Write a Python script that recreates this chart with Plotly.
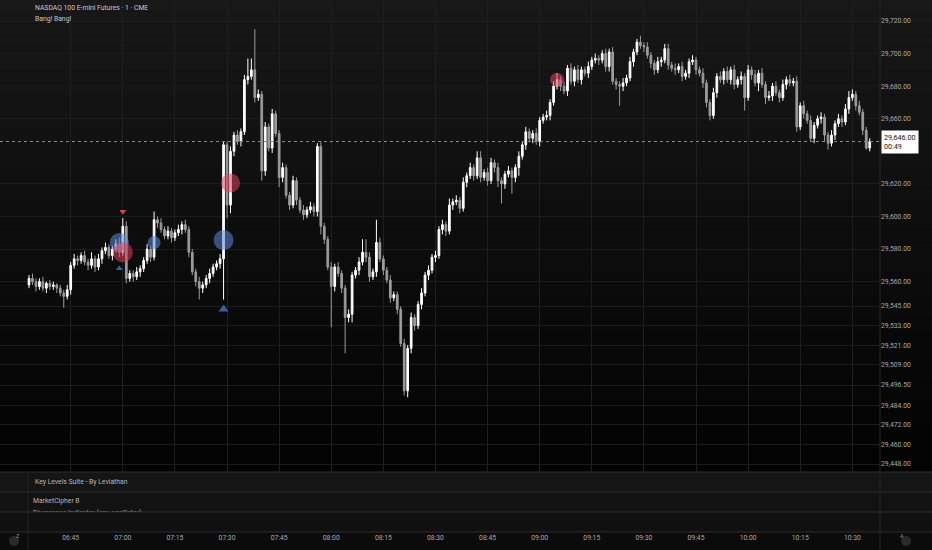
import plotly.graph_objects as go
import pandas as pd

# ---------------- data ----------------
first_open = 29558
closes = [
    29562, 29560, 29557, 29560, 29556, 29559, 29557, 29558, 29556, 29553,
    29551, 29555, 29570, 29574, 29573, 29576, 29572, 29570, 29574, 29569,
    29574, 29579, 29581, 29576, 29580, 29583, 29578, 29594, 29562, 29565,
    29563, 29566, 29568, 29573, 29580, 29575, 29598, 29596, 29592, 29588,
    29591, 29587, 29590, 29592, 29595, 29592, 29578, 29566, 29560, 29556,
    29558, 29562, 29565, 29569, 29571, 29574, 29644, 29607, 29640, 29650,
    29646, 29652, 29684, 29686, 29690, 29673, 29675, 29628, 29655, 29642,
    29663, 29651, 29624, 29630, 29613, 29607, 29622, 29610, 29604, 29601,
    29604, 29606, 29603, 29643, 29594, 29586, 29569, 29557, 29569, 29565,
    29556, 29538, 29540, 29564, 29567, 29572, 29578, 29575, 29563, 29566,
    29584, 29574, 29567, 29561, 29550, 29552, 29543, 29522, 29493, 29519,
    29538, 29533, 29546, 29553, 29564, 29567, 29575, 29576, 29592, 29595,
    29591, 29607, 29609, 29610, 29605, 29621, 29625, 29630, 29625, 29636,
    29624, 29627, 29622, 29633, 29630, 29622, 29620, 29626, 29628, 29624,
    29630, 29637, 29644, 29652, 29648, 29651, 29646, 29659, 29661, 29662,
    29670, 29680, 29684, 29680, 29677, 29691, 29683, 29690, 29684, 29690,
    29688, 29692, 29696, 29697, 29696, 29700, 29692, 29701, 29683, 29681,
    29680, 29682, 29685, 29695, 29701, 29707, 29705, 29704, 29699, 29694,
    29690, 29695, 29696, 29703, 29693, 29691, 29690, 29692, 29686, 29688,
    29695, 29696, 29690, 29688, 29682, 29670, 29662, 29676, 29686, 29684,
    29689, 29684, 29690, 29681, 29684, 29686, 29673, 29690, 29687, 29682,
    29688, 29681, 29673, 29674, 29680, 29676, 29673, 29681, 29684, 29682,
    29683, 29655, 29668, 29663, 29659, 29648, 29656, 29660, 29661, 29650,
    29645, 29650, 29657, 29660, 29658, 29666, 29673, 29675, 29668, 29664,
    29653, 29642, 29646,
]
upper_wick = [
    2, 3, 2, 2, 3, 1, 2, 2, 1, 2,
    2, 3, 2, 3, 2, 2, 3, 2, 4, 2,
    3, 2, 3, 2, 2, 3, 4, 5, 3, 2,
    2, 3, 2, 2, 3, 2, 5, 2, 3, 2,
    3, 2, 2, 3, 2, 3, 2, 2, 2, 3,
    2, 2, 3, 2, 2, 3, 2, 2, 3, 2,
    3, 2, 3, 11, 7, 25, 3, 2, 3, 2,
    3, 2, 2, 3, 2, 2, 3, 2, 2, 3,
    2, 3, 2, 2, 3, 2, 2, 3, 2, 3,
    2, 2, 3, 2, 2, 3, 8, 8, 3, 2,
    14, 3, 2, 2, 3, 2, 2, 2, 3, 2,
    3, 2, 2, 3, 2, 3, 2, 3, 2, 3,
    2, 4, 2, 3, 2, 3, 2, 3, 2, 4,
    4, 2, 3, 3, 2, 3, 2, 2, 3, 2,
    2, 3, 2, 3, 2, 2, 3, 2, 2, 3,
    2, 3, 4, 2, 3, 2, 3, 2, 3, 2,
    2, 3, 2, 3, 2, 2, 3, 2, 3, 2,
    2, 3, 2, 3, 2, 2, 4, 2, 3, 2,
    2, 3, 2, 3, 3, 2, 3, 2, 3, 2,
    2, 3, 2, 2, 3, 2, 2, 3, 2, 3,
    2, 3, 2, 3, 2, 3, 2, 3, 2, 3,
    2, 3, 2, 3, 2, 3, 2, 3, 2, 3,
    2, 3, 2, 3, 2, 3, 2, 2, 3, 2,
    2, 3, 2, 3, 2, 3, 4, 3, 2, 3,
    2, 2, 2,
]
lower_wick = [
    2, 2, 3, 2, 2, 3, 2, 2, 3, 2,
    7, 2, 3, 2, 3, 2, 2, 3, 2, 3,
    2, 3, 2, 2, 3, 2, 3, 2, 3, 2,
    3, 2, 3, 2, 2, 3, 2, 3, 2, 2,
    2, 3, 2, 2, 3, 2, 3, 2, 3, 7,
    3, 2, 3, 2, 2, 3, 25, 8, 5, 3,
    2, 3, 2, 3, 2, 3, 2, 6, 3, 2,
    3, 2, 6, 3, 2, 3, 2, 3, 2, 3,
    2, 2, 3, 3, 5, 3, 2, 25, 3, 2,
    3, 22, 3, 5, 2, 3, 2, 3, 3, 2,
    3, 2, 3, 2, 3, 2, 3, 2, 3, 4,
    3, 3, 2, 3, 2, 3, 2, 3, 2, 3,
    3, 2, 3, 2, 3, 2, 3, 2, 3, 2,
    3, 2, 3, 2, 3, 4, 12, 3, 2, 10,
    3, 5, 2, 3, 2, 3, 2, 3, 2, 2,
    3, 2, 2, 3, 2, 3, 2, 3, 2, 3,
    2, 3, 2, 2, 3, 2, 3, 3, 2, 3,
    12, 3, 2, 2, 3, 2, 2, 3, 2, 3,
    3, 2, 3, 2, 3, 2, 3, 2, 3, 2,
    3, 2, 3, 2, 3, 3, 3, 2, 3, 2,
    3, 2, 3, 3, 2, 3, 8, 2, 3, 2,
    5, 2, 4, 2, 3, 2, 3, 2, 3, 2,
    2, 3, 2, 3, 2, 2, 3, 2, 3, 4,
    4, 2, 3, 2, 3, 2, 3, 2, 3, 2,
    3, 1, 2,
]

# signal markers: bar index and price
blue_circle_idx = [26, 36, 56]
blue_circle_y = [29584, 29584, 29585.5]
blue_circle_size = [19, 13, 20]
red_circle_idx = [27, 58, 152]
red_circle_y = [29578, 29620.5, 29684]
red_circle_size = [20, 19, 14]
blue_tri_idx = [26, 56]
blue_tri_y = [29568, 29543]
blue_tri_size = [6, 9]
red_tri_idx = [27]
red_tri_y = [29603]

y_ticks = [29720, 29700, 29680, 29660, 29620, 29600, 29580, 29560, 29545,
           29533, 29521, 29509, 29496.5, 29484, 29472, 29460, 29448]
x_tick_labels = ["06:45", "07:00", "07:15", "07:30", "07:45", "08:00", "08:15", "08:30",
                 "08:45", "09:00", "09:15", "09:30", "09:45", "10:00", "10:15", "10:30"]
last_price = 29646
last_price_label = "29,646.00<br>00:49"

title_line1 = "NASDAQ 100 E-mini Futures · 1 · CME"
title_line2 = "Bang! Bang!"
panel_labels = ["Key Levels Suite - By Leviathan", "MarketCipher B",
                "Divergence Indicator (any oscillator)"]

# ---------------- build ----------------
DAY = "2025-07-15 "
n = len(closes)
times = pd.date_range(DAY + "06:33", periods=n, freq="1min")
opens = [first_open] + closes[:-1]
highs = [max(o, c) + u for o, c, u in zip(opens, closes, upper_wick)]
lows = [min(o, c) - l for o, c, l in zip(opens, closes, lower_wick)]
x_tick_vals = [pd.Timestamp(DAY + t) for t in x_tick_labels]

W, H = 932, 550
ML, MR, MT, MB = 0, 52, 0, 18
PW = W - ML - MR          # 880
PH = H - MT - MB          # 532
MAIN_BOTTOM_PX = 472


def px_x(px):
    return (px - ML) / PW


def px_y(py):
    return (H - MB - py) / PH


FONT = "Roboto"
TXT = "#a8a8a8"

fig = go.Figure()
fig.add_trace(go.Candlestick(
    x=times, open=opens, high=highs, low=lows, close=closes,
    increasing=dict(line=dict(color="#ffffff", width=1), fillcolor="#ffffff"),
    decreasing=dict(line=dict(color="#9c9c9c", width=1), fillcolor="#9c9c9c"),
    whiskerwidth=0, hoverinfo="skip", showlegend=False,
))

fig.add_trace(go.Scatter(
    x=[times[i] for i in blue_circle_idx], y=blue_circle_y, mode="markers",
    marker=dict(size=blue_circle_size, color="rgba(92,140,215,0.78)", line=dict(width=0)),
    hoverinfo="skip", showlegend=False))
fig.add_trace(go.Scatter(
    x=[times[i] for i in red_circle_idx], y=red_circle_y, mode="markers",
    marker=dict(size=red_circle_size, color="rgba(222,66,92,0.78)", line=dict(width=0)),
    hoverinfo="skip", showlegend=False))
fig.add_trace(go.Scatter(
    x=[times[i] for i in blue_tri_idx], y=blue_tri_y, mode="markers",
    marker=dict(size=blue_tri_size, symbol="triangle-up", color="#4f86d8", line=dict(width=0)),
    hoverinfo="skip", showlegend=False))
fig.add_trace(go.Scatter(
    x=[times[i] for i in red_tri_idx], y=red_tri_y, mode="markers",
    marker=dict(size=6, symbol="triangle-down", color="#e0414f", line=dict(width=0)),
    hoverinfo="skip", showlegend=False))

# clipped panel text (second pane)
fig.add_trace(go.Scatter(
    x=[33, 33], y=[11, -1.5], mode="text", text=panel_labels[1:],
    textposition="middle right", textfont=dict(family=FONT, size=6.8, color="#b8b8b8"),
    cliponaxis=True, xaxis="x2", yaxis="y2", hoverinfo="skip", showlegend=False))

# axis ranges from pixel geometry
t0 = pd.Timestamp(DAY + "06:45")
min_per_px = 1 / 3.474
x_left = t0 + pd.Timedelta(minutes=(0 - 70.7) * min_per_px)
x_right = t0 + pd.Timedelta(minutes=(880 - 70.7) * min_per_px)
px_per_pt = 1.629
y_top = 29720 + 21 / px_per_pt
y_bot = 29720 - (MAIN_BOTTOM_PX - 21) / px_per_pt

shapes = []
nb = 40
for k in range(nb):
    f = k / (nb - 1)
    c = int(24 - 21 * f)
    shapes.append(dict(type="rect", xref="paper", yref="paper", layer="below",
                       x0=px_x(0), x1=px_x(W), y0=px_y(MAIN_BOTTOM_PX * (k + 1) / nb),
                       y1=px_y(MAIN_BOTTOM_PX * k / nb),
                       fillcolor=f"rgb({c},{c},{c})", line=dict(width=0)))
for top, bot, col in [(472, 492, "#151515"), (492, 512, "#121212"), (512, 532, "#101010"), (532, 550, "#0b0b0b")]:
    shapes.append(dict(type="rect", xref="paper", yref="paper", layer="below",
                       x0=px_x(0), x1=px_x(W), y0=px_y(bot), y1=px_y(top),
                       fillcolor=col, line=dict(width=0)))
for py in [472, 492, 512, 532]:
    shapes.append(dict(type="line", xref="paper", yref="paper", layer="above",
                       x0=px_x(0), x1=px_x(W), y0=px_y(py), y1=px_y(py),
                       line=dict(color="#2c2c2c", width=1)))
shapes.append(dict(type="line", xref="paper", yref="paper", layer="above",
                   x0=px_x(880), x1=px_x(880), y0=px_y(H), y1=px_y(0),
                   line=dict(color="#262626", width=1)))
shapes.append(dict(type="line", xref="paper", yref="paper", layer="above",
                   x0=px_x(28), x1=px_x(28), y0=px_y(H), y1=px_y(472),
                   line=dict(color="#222222", width=1)))
shapes.append(dict(type="line", xref="paper", yref="y", layer="above",
                   x0=0, x1=1, y0=last_price, y1=last_price,
                   line=dict(color="#8a8a8a", width=1, dash="dot")))
for cx in (14, 906):
    shapes.append(dict(type="circle", xref="paper", yref="paper", layer="above",
                       x0=px_x(cx - 5), x1=px_x(cx + 5), y0=px_y(546), y1=px_y(536),
                       fillcolor="#2a2a2a", line=dict(width=0)))

annotations = [
    dict(text=title_line1, xref="paper", yref="paper", x=px_x(33), y=px_y(7.5),
         xanchor="left", yanchor="middle", showarrow=False,
         font=dict(family=FONT, size=6.8, color="#c8c8c8")),
    dict(text=title_line2, xref="paper", yref="paper", x=px_x(33), y=px_y(19.5),
         xanchor="left", yanchor="middle", showarrow=False,
         font=dict(family=FONT, size=6.8, color="#c8c8c8")),
    dict(text=panel_labels[0], xref="paper", yref="paper", x=px_x(33), y=px_y(481.5),
         xanchor="left", yanchor="middle", showarrow=False,
         font=dict(family=FONT, size=6.8, color="#b8b8b8")),
    dict(text=last_price_label, xref="paper", yref="y", x=px_x(881), y=last_price,
         xanchor="left", yanchor="middle", showarrow=False, align="left",
         bgcolor="#ffffff", borderpad=2,
         font=dict(family=FONT, size=7.2, color="#111111")),
    dict(text="Z", xref="paper", yref="paper", x=px_x(14), y=px_y(541),
         showarrow=False, font=dict(family=FONT, size=5.5, color="#8a8a8a")),
    dict(text="A", xref="paper", yref="paper", x=px_x(906), y=px_y(541),
         showarrow=False, font=dict(family=FONT, size=5.5, color="#8a8a8a")),
]

fig.update_layout(
    width=W, height=H,
    margin=dict(l=ML, r=MR, t=MT, b=MB, pad=0),
    paper_bgcolor="#0b0b0b", plot_bgcolor="rgba(0,0,0,0)",
    showlegend=False, hovermode=False,
    shapes=shapes, annotations=annotations,
    xaxis=dict(range=[x_left, x_right], rangeslider=dict(visible=False),
               anchor="free", position=0, domain=[0, 1],
               showgrid=True, gridcolor="#1f1f1f", gridwidth=1,
               tickmode="array", tickvals=x_tick_vals, ticktext=x_tick_labels,
               ticks="", showline=False, zeroline=False,
               tickfont=dict(family=FONT, size=6.8, color=TXT)),
    yaxis=dict(range=[y_bot, y_top], domain=[px_y(MAIN_BOTTOM_PX), 1], side="right",
               tickvals=y_ticks, tickformat=",.2f", showgrid=True, gridcolor="#1c1c1c",
               ticks="", zeroline=False, showline=False,
               tickfont=dict(family=FONT, size=6.8, color=TXT)),
    xaxis2=dict(domain=[0, 1], range=[0, PW], anchor="y2", visible=False, fixedrange=True),
    yaxis2=dict(domain=[px_y(512), px_y(492)], range=[0, 20], anchor="x2", visible=False,
                fixedrange=True),
)

fig.write_html(
    "out.html",
    config={"displayModeBar": False, "staticPlot": True},
    post_script="document.body.style.margin='0';document.body.style.background='#0b0b0b';",
)
